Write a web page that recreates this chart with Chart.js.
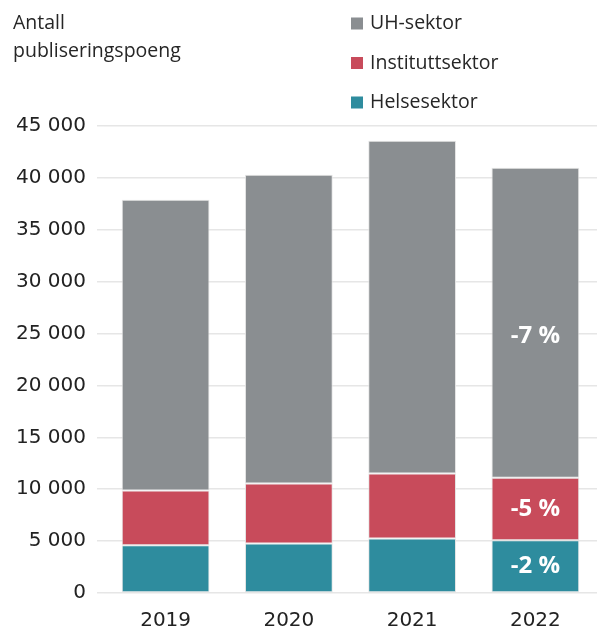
<!DOCTYPE html>
<html>
<head>
<meta charset="utf-8">
<script src="https://cdn.jsdelivr.net/npm/chart.js@4/dist/chart.umd.min.js"></script>
<style>
  html, body { margin: 0; padding: 0; background: #fff; }
  #wrap { width: 597px; height: 633px; position: relative; }
</style>
</head>
<body>
<div id="wrap"><canvas id="c"></canvas></div>
<script>
// ---- Data ----
const categories = ['2019', '2020', '2021', '2022'];
const helsesektor = [4600, 4760, 5240, 5090];
const instituttsektor = [5280, 5790, 6280, 6010];
const uhSektor = [28020, 29750, 32060, 29870];
const helseChange = ['', '', '', '-2 %'];
const instituttChange = ['', '', '', '-5 %'];
const uhChange = ['', '', '', '-7 %'];
const yTicks = [0, 5000, 10000, 15000, 20000, 25000, 30000, 35000, 40000, 45000];
const axisTitleLines = ['Antall', 'publiseringspoeng'];

const TEXT_FONT = '"Open Sans", "Noto Sans", sans-serif';
const TICK_FONT = '"DejaVu Sans", sans-serif';

function fmt(v) {
  return String(v).replace(/\B(?=(\d{3})+(?!\d))/g, ' ');
}

const overlayPlugin = {
  id: 'overlay',
  afterDatasetsDraw(chart) {
    const ctx = chart.ctx;
    ctx.save();
    ctx.fillStyle = '#ffffff';
    ctx.font = 'bold 24px ' + TEXT_FONT;
    ctx.textAlign = 'center';
    ctx.textBaseline = 'middle';
    chart.data.datasets.forEach((ds, di) => {
      const meta = chart.getDatasetMeta(di);
      meta.data.forEach((bar, i) => {
        const txt = ds.changeLabels[i];
        if (!txt) return;
        const props = bar.getProps(['x', 'y', 'base'], true);
        let cy = (props.y + props.base) / 2;
        if (di === 2) cy += 13;
        ctx.fillText(txt, props.x, cy);
      });
    });
    ctx.restore();
  },
  afterDraw(chart) {
    const ctx = chart.ctx;
    ctx.save();
    ctx.fillStyle = '#262626';
    ctx.font = '19.5px ' + TEXT_FONT;
    ctx.textAlign = 'left';
    ctx.textBaseline = 'alphabetic';
    axisTitleLines.forEach((line, i) => {
      ctx.fillText(line, 13, 29 + i * 28);
    });
    const ds = chart.data.datasets.slice().reverse();
    ds.forEach((d, i) => {
      const base = 29 + i * 39.5;
      ctx.fillStyle = d.backgroundColor;
      ctx.fillRect(351, base - 11.5, 12, 12);
      ctx.fillStyle = '#262626';
      ctx.fillText(d.label, 370, base);
    });
    ctx.restore();
  }
};

new Chart(document.getElementById('c'), {
  type: 'bar',
  data: {
    labels: categories,
    datasets: [
      { label: 'Helsesektor', data: helsesektor, backgroundColor: '#2e8c9e', changeLabels: helseChange },
      { label: 'Instituttsektor', data: instituttsektor, backgroundColor: '#c84b5b', changeLabels: instituttChange },
      { label: 'UH-sektor', data: uhSektor, backgroundColor: '#8a8e91', changeLabels: uhChange }
    ].map(d => Object.assign(d, {
      borderColor: 'rgba(225,225,225,0.9)',
      borderWidth: 1,
      borderSkipped: false,
      categoryPercentage: 1,
      barPercentage: 0.712
    }))
  },
  options: {
    responsive: true,
    maintainAspectRatio: false,
    animation: false,
    layout: { padding: { top: 126, left: 5, right: 0, bottom: -16 } },
    plugins: { legend: { display: false }, tooltip: { enabled: false }, title: { display: false } },
    scales: {
      x: {
        stacked: true,
        grid: { display: false, drawTicks: false },
        border: { display: false },
        ticks: { color: '#222', font: { family: TICK_FONT, size: 20 }, padding: 16 }
      },
      y: {
        stacked: true,
        min: 0,
        max: 45000,
        afterBuildTicks(axis) { axis.ticks = yTicks.map(v => ({ value: v })); },
        grid: { color: '#e6e6e6', lineWidth: 1.5, tickLength: 7, drawTicks: true },
        border: { display: false },
        ticks: {
          color: '#222',
          font: { family: TICK_FONT, size: 20 },
          padding: 11,
          callback: v => fmt(v)
        }
      }
    }
  },
  plugins: [overlayPlugin]
});
</script>
</body>
</html>
